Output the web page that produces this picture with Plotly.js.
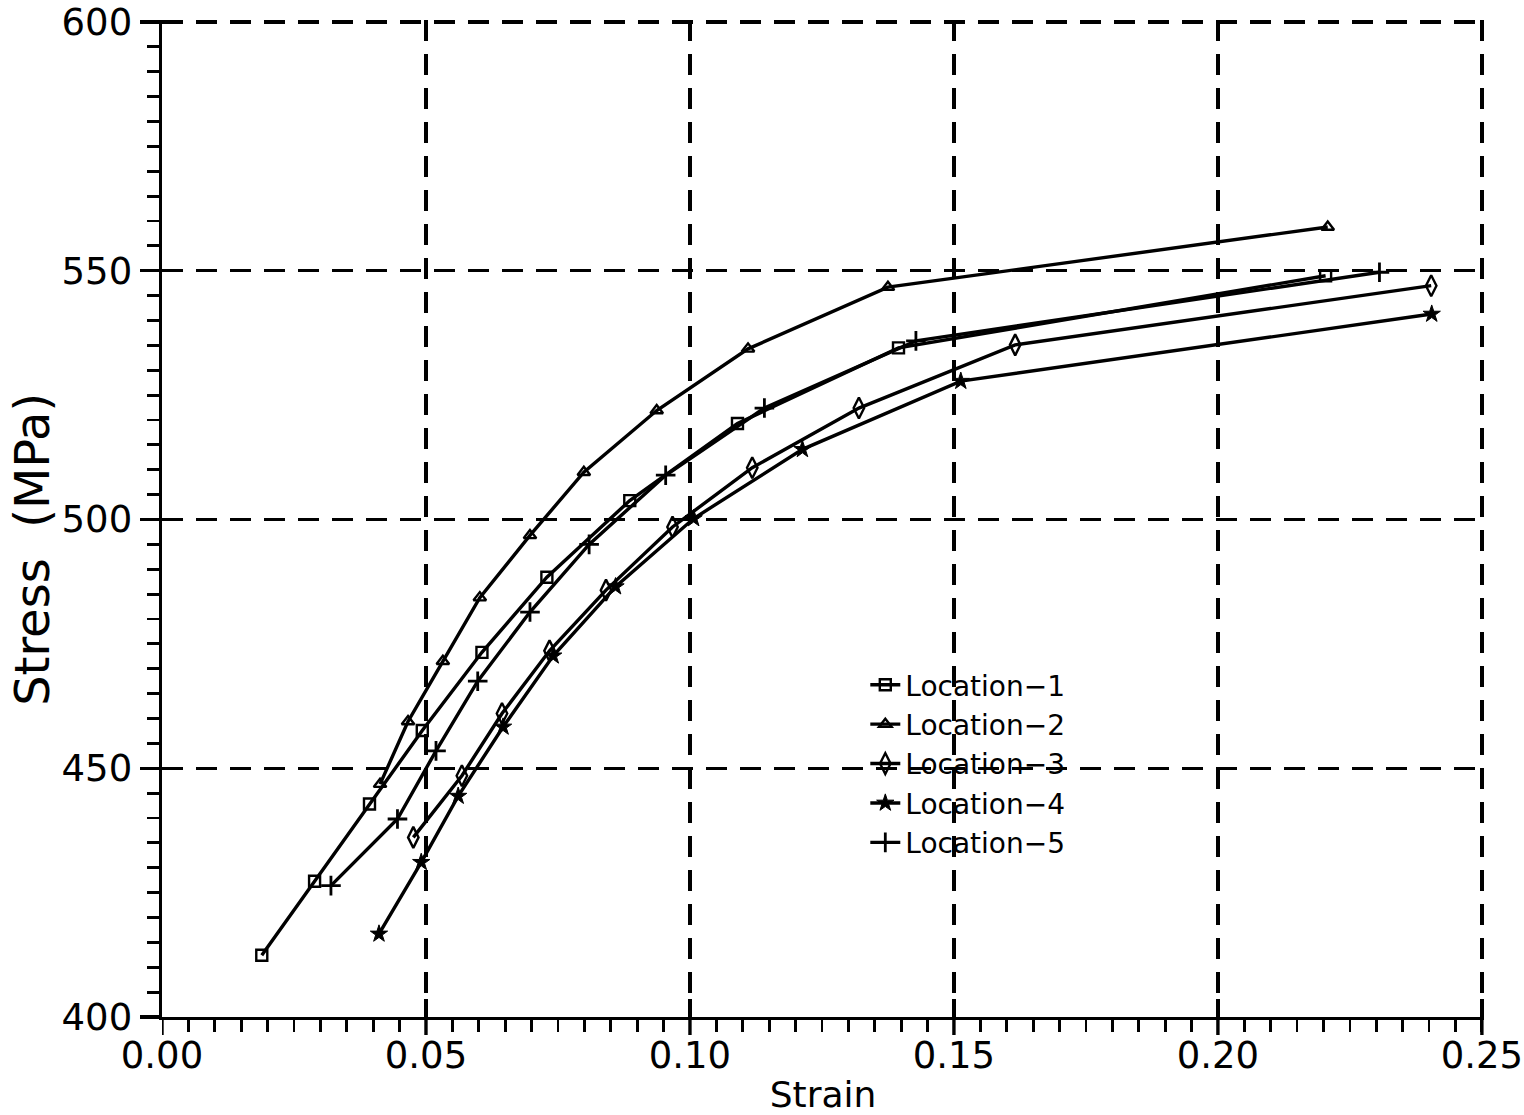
<!DOCTYPE html>
<html>
<head>
<meta charset="utf-8">
<script src="https://cdn.plot.ly/plotly-3.0.1.min.js"></script>
<style>
  html, body { margin: 0; padding: 0; background: #fff; }
  #chart { width: 1524px; height: 1115px; }
</style>
</head>
<body>
<div id="chart"></div>
<script>
const seriesNames = ["Location\u22121", "Location\u22122", "Location\u22123", "Location\u22124", "Location\u22125"];

const strain1 = [0.0189, 0.0289, 0.0393, 0.0493, 0.0606, 0.0729, 0.0886, 0.1090, 0.1395, 0.2204];
const stress1 = [412.4, 427.3, 442.8, 457.6, 473.3, 488.4, 503.8, 519.3, 534.5, 549.0];

const strain2 = [0.0413, 0.0466, 0.0532, 0.0602, 0.0697, 0.0799, 0.0937, 0.1110, 0.1375, 0.2208];
const stress2 = [446.8, 459.4, 471.5, 484.3, 496.8, 509.5, 521.9, 534.3, 546.7, 558.8];

const strain3 = [0.0476, 0.0568, 0.0644, 0.0734, 0.0841, 0.0967, 0.1118, 0.1320, 0.1616, 0.2404];
const stress3 = [436.1, 448.5, 461.0, 473.6, 485.8, 498.5, 510.4, 522.4, 535.1, 547.0];

const strain4 = [0.0411, 0.0491, 0.0561, 0.0646, 0.0741, 0.0859, 0.1007, 0.1213, 0.1513, 0.2405];
const stress4 = [416.7, 431.1, 444.4, 458.3, 472.6, 486.5, 500.2, 514.1, 527.8, 541.3];

const strain5 = [0.0320, 0.0446, 0.0519, 0.0598, 0.0697, 0.0809, 0.0954, 0.1141, 0.1428, 0.2306];
const stress5 = [426.4, 439.8, 453.5, 467.5, 481.4, 495.0, 508.9, 522.4, 535.9, 549.7];

const xTickVals = [0, 0.05, 0.10, 0.15, 0.20, 0.25];
const xTickText = ["0.00", "0.05", "0.10", "0.15", "0.20", "0.25"];
const yTickVals = [400, 450, 500, 550, 600];
const yTickText = ["400", "450", "500", "550", "600"];

const FONT = "DejaVu Sans, Liberation Sans, sans-serif";
const INK = "#000";

const allX = [strain1, strain2, strain3, strain4, strain5];
const allY = [stress1, stress2, stress3, stress4, stress5];
const symbols = [
  {symbol: "square-open", size: 11, w: 2.4},
  {symbol: "triangle-up-open", size: 11, w: 2.4},
  {symbol: "diamond-tall-open", size: 15, w: 2.4},
  {symbol: "star", size: 13, w: 1},
  {symbol: "cross-thin-open", size: 14, w: 2.8}
];

const traces = allX.map((xs, i) => ({
  type: "scatter",
  mode: "lines+markers",
  name: seriesNames[i],
  x: xs,
  y: allY[i],
  line: {color: INK, width: 3.4},
  marker: {
    symbol: symbols[i].symbol,
    size: symbols[i].size,
    color: INK,
    line: {color: INK, width: symbols[i].w}
  }
}));

// outer halves of the major x ticks (they cross the axis line in the original)
const majorStubs = xTickVals.map(v => ({
  type: "line", xref: "x", yref: "paper",
  ysizemode: "pixel", yanchor: 0,
  x0: v, x1: v, y0: -18, y1: 0,
  line: {color: INK, width: 3.4}
}));

const layout = {
  width: 1524,
  height: 1115,
  paper_bgcolor: "#fff",
  plot_bgcolor: "#fff",
  margin: {l: 162, r: 40, t: 20, b: 98},
  font: {family: FONT, color: INK, size: 30},
  showlegend: true,
  legend: {
    x: 0.532, y: 0.358, xanchor: "left", yanchor: "top",
    bgcolor: "rgba(0,0,0,0)",
    font: {family: FONT, size: 28, color: INK},
    tracegroupgap: 0
  },
  xaxis: {
    range: [0, 0.2504],
    tickmode: "array",
    tickvals: xTickVals,
    ticktext: xTickText,
    ticks: "inside",
    ticklen: 18,
    tickwidth: 3.4,
    tickcolor: INK,
    ticklabelstandoff: 3,
    tickfont: {family: FONT, size: 37, color: INK},
    showline: true,
    linecolor: INK,
    linewidth: 3.4,
    showgrid: true,
    gridcolor: INK,
    gridwidth: 3.4,
    griddash: "21px,13px",
    zeroline: false,
    minor: {dtick: 0.005, tick0: 0, ticks: "outside", ticklen: 12, tickwidth: 2.8, tickcolor: INK, showgrid: false},
    title: {text: "Strain", font: {family: FONT, size: 36, color: INK}, standoff: 19}
  },
  yaxis: {
    range: [400, 600.4],
    tickmode: "array",
    tickvals: yTickVals,
    ticktext: yTickText,
    ticks: "outside",
    ticklen: 19,
    tickwidth: 3.4,
    tickcolor: INK,
    tickfont: {family: FONT, size: 37, color: INK},
    showline: true,
    linecolor: INK,
    linewidth: 3.4,
    showgrid: true,
    gridcolor: INK,
    gridwidth: 3.4,
    griddash: "21px,13px",
    zeroline: false,
    minor: {dtick: 5, tick0: 400, ticks: "outside", ticklen: 12, tickwidth: 2.8, tickcolor: INK, showgrid: false},
    title: {text: ""}
  },
  shapes: majorStubs,
  annotations: [{
    text: "Stress  (MPa)",
    xref: "paper", yref: "paper",
    x: -0.098, y: 0.469,
    xanchor: "center", yanchor: "middle",
    textangle: -90,
    showarrow: false,
    font: {family: FONT, size: 48, color: INK}
  }]
};

Plotly.newPlot("chart", traces, layout, {staticPlot: true, displayModeBar: false});
</script>
</body>
</html>
